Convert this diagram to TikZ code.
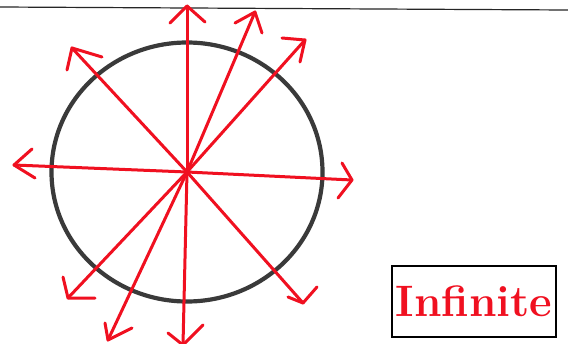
\documentclass[tikz,border=0pt]{standalone}
\begin{document}
\begin{tikzpicture}[x=1pt,y=-1pt,
  ray/.style={draw=myred,line width=3pt,line cap=round,line join=round},
  rim/.style={draw=rimgray,line width=4.2pt},
  framebox/.style={draw=black,line width=1.1pt,minimum width=164pt,minimum height=71pt,inner sep=0pt,text=myred,font=\fontsize{44}{44}\selectfont\bfseries}]
\definecolor{myred}{RGB}{240,16,32}
\definecolor{rimgray}{RGB}{58,58,58}
\useasboundingbox (0,0) rectangle (568,343);
\fill[white] (0,0) rectangle (568,343);
% top rule
\coordinate (r1) at (0,7);
\coordinate (r2) at (568,10);
\draw[line width=1.2pt,black!85] (r1) -- (r2);
% circle
\coordinate (c) at (187,172);
\draw[rim] (c) ellipse [x radius=135.5pt, y radius=129.5pt];
% tips and barbs
\coordinate (t1) at (187,6);   \coordinate (a1) at (170,23);  \coordinate (b1) at (205,22);
\coordinate (t2) at (255,12);  \coordinate (a2) at (235,23);  \coordinate (b2) at (262,33);
\coordinate (t3) at (305,40);  \coordinate (a3) at (282,38);  \coordinate (b3) at (300,62);
\coordinate (t4) at (72,48);   \coordinate (a4) at (67,70);   \coordinate (b4) at (102,57);
\coordinate (t5) at (14,165);  \coordinate (a5) at (32,149);  \coordinate (b5) at (35,178);
\coordinate (t6) at (352,180); \coordinate (a6) at (342,163); \coordinate (b6) at (338,198);
\coordinate (t7) at (68,298);  \coordinate (a7) at (63,277);  \coordinate (b7) at (95,298);
\coordinate (t8) at (108,340); \coordinate (a8) at (105,323); \coordinate (b8) at (132,328);
\coordinate (t9) at (183,345); \coordinate (a9) at (168,333); \coordinate (b9) at (203,325);
\coordinate (t10) at (303,303); \coordinate (a10) at (288,297); \coordinate (b10) at (317,287);
\foreach \i in {1,...,10}{
  \draw[ray] (c) -- (t\i);
  \draw[ray] (a\i) -- (t\i) -- (b\i);
}
% label
\node[framebox] (lab) at (474,301.5) {Infinite};
\end{tikzpicture}
\end{document}
